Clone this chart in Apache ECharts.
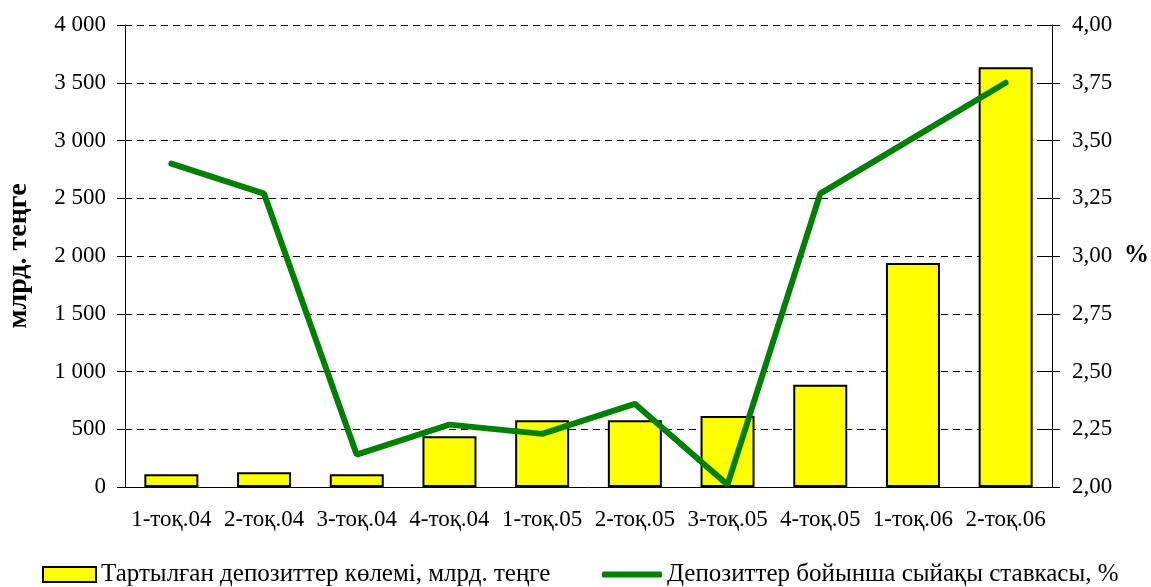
<!DOCTYPE html>
<html>
<head>
<meta charset="utf-8">
<script src="https://cdn.jsdelivr.net/npm/echarts@6/dist/echarts.min.js"></script>
<style>
  html,body{margin:0;padding:0;background:#fff;}
  #chart{width:1151px;height:587px;}
</style>
</head>
<body>
<div id="chart"></div>
<script>
// категориялар мен мәндер
var quarters = ['1-тоқ.04','2-тоқ.04','3-тоқ.04','4-тоқ.04','1-тоқ.05','2-тоқ.05','3-тоқ.05','4-тоқ.05','1-тоқ.06','2-тоқ.06'];
var volumes = [110, 127, 110, 439, 577, 577, 615, 886, 1939, 3634];
var rates = [3.40, 3.27, 2.14, 2.27, 2.23, 2.36, 2.01, 3.27, 3.51, 3.75];
var barName = 'Тартылған депозиттер көлемі, млрд. теңге';
var lineName = 'Депозиттер бойынша сыйақы ставкасы, %';

var font = 'Liberation Serif';
var chart = echarts.init(document.getElementById('chart'));

var option = {
  animation: false,
  textStyle: {fontFamily: font, color: '#000'},
  grid: {left: 125, right: 99, top: 25, bottom: 100, outerBoundsMode: 'none'},
  legend: [{
    left: 37, top: 557,
    itemWidth: 53, itemHeight: 15,
    textStyle: {fontFamily: font, fontSize: 25, color: '#000'},
    data: [{name: barName, icon: 'rect'}]
  }, {
    left: 597, top: 557,
    itemWidth: 60, itemHeight: 6,
    textStyle: {fontFamily: font, fontSize: 25, color: '#000'},
    data: [{name: lineName, icon: 'roundRect'}]
  }],
  xAxis: {
    type: 'category',
    data: quarters,
    axisLine: {lineStyle: {color: '#000', width: 1}},
    axisTick: {length: 7, lineStyle: {color: '#000'}},
    axisLabel: {fontFamily: font, fontSize: 23, color: '#000', margin: 21, interval: 0}
  },
  yAxis: [{
    type: 'value',
    min: 0, max: 4000, interval: 500,
    name: 'млрд. теңге',
    nameLocation: 'middle',
    nameRotate: 90,
    nameGap: 92,
    nameTextStyle: {fontFamily: font, fontSize: 28, fontWeight: 'bold', color: '#000'},
    axisLine: {show: true, lineStyle: {color: '#000'}},
    axisTick: {show: true, length: 8, lineStyle: {color: '#000'}},
    axisLabel: {
      fontFamily: font, fontSize: 23, color: '#000', margin: 19,
      formatter: function (v) { return String(v).replace(/\B(?=(\d{3})+(?!\d))/g, ' '); }
    },
    splitLine: {show: true, lineStyle: {color: '#000', type: [7, 5], width: 1}}
  }, {
    type: 'value',
    min: 2, max: 4, interval: 0.25,
    position: 'right',
    name: '%',
    nameLocation: 'middle',
    nameRotate: 0,
    nameGap: 72,
    nameTextStyle: {fontFamily: font, fontSize: 25, fontWeight: 'bold', color: '#000'},
    axisLine: {show: true, lineStyle: {color: '#000'}},
    axisTick: {show: true, length: 8, lineStyle: {color: '#000'}},
    axisLabel: {
      fontFamily: font, fontSize: 23, color: '#000', margin: 20,
      formatter: function (v) { return v.toFixed(2).replace('.', ','); }
    },
    splitLine: {show: false}
  }, {
    // ішкі белгілер (cross ticks)
    type: 'value',
    min: 2, max: 4, interval: 0.25,
    position: 'right',
    axisLine: {show: false},
    axisTick: {show: true, inside: true, length: 8, lineStyle: {color: '#000'}},
    axisLabel: {show: false},
    splitLine: {show: false}
  }],
  series: [{
    name: barName,
    type: 'bar',
    data: volumes,
    barWidth: 54,
    itemStyle: {color: '#FFFF00', borderColor: '#000', borderWidth: 2}
  }, {
    name: lineName,
    type: 'line',
    yAxisIndex: 1,
    data: rates,
    symbol: 'none',
    itemStyle: {color: '#008000'},
    lineStyle: {color: '#008000', width: 6, cap: 'round'}
  }]
};

chart.setOption(option);
</script>
</body>
</html>
